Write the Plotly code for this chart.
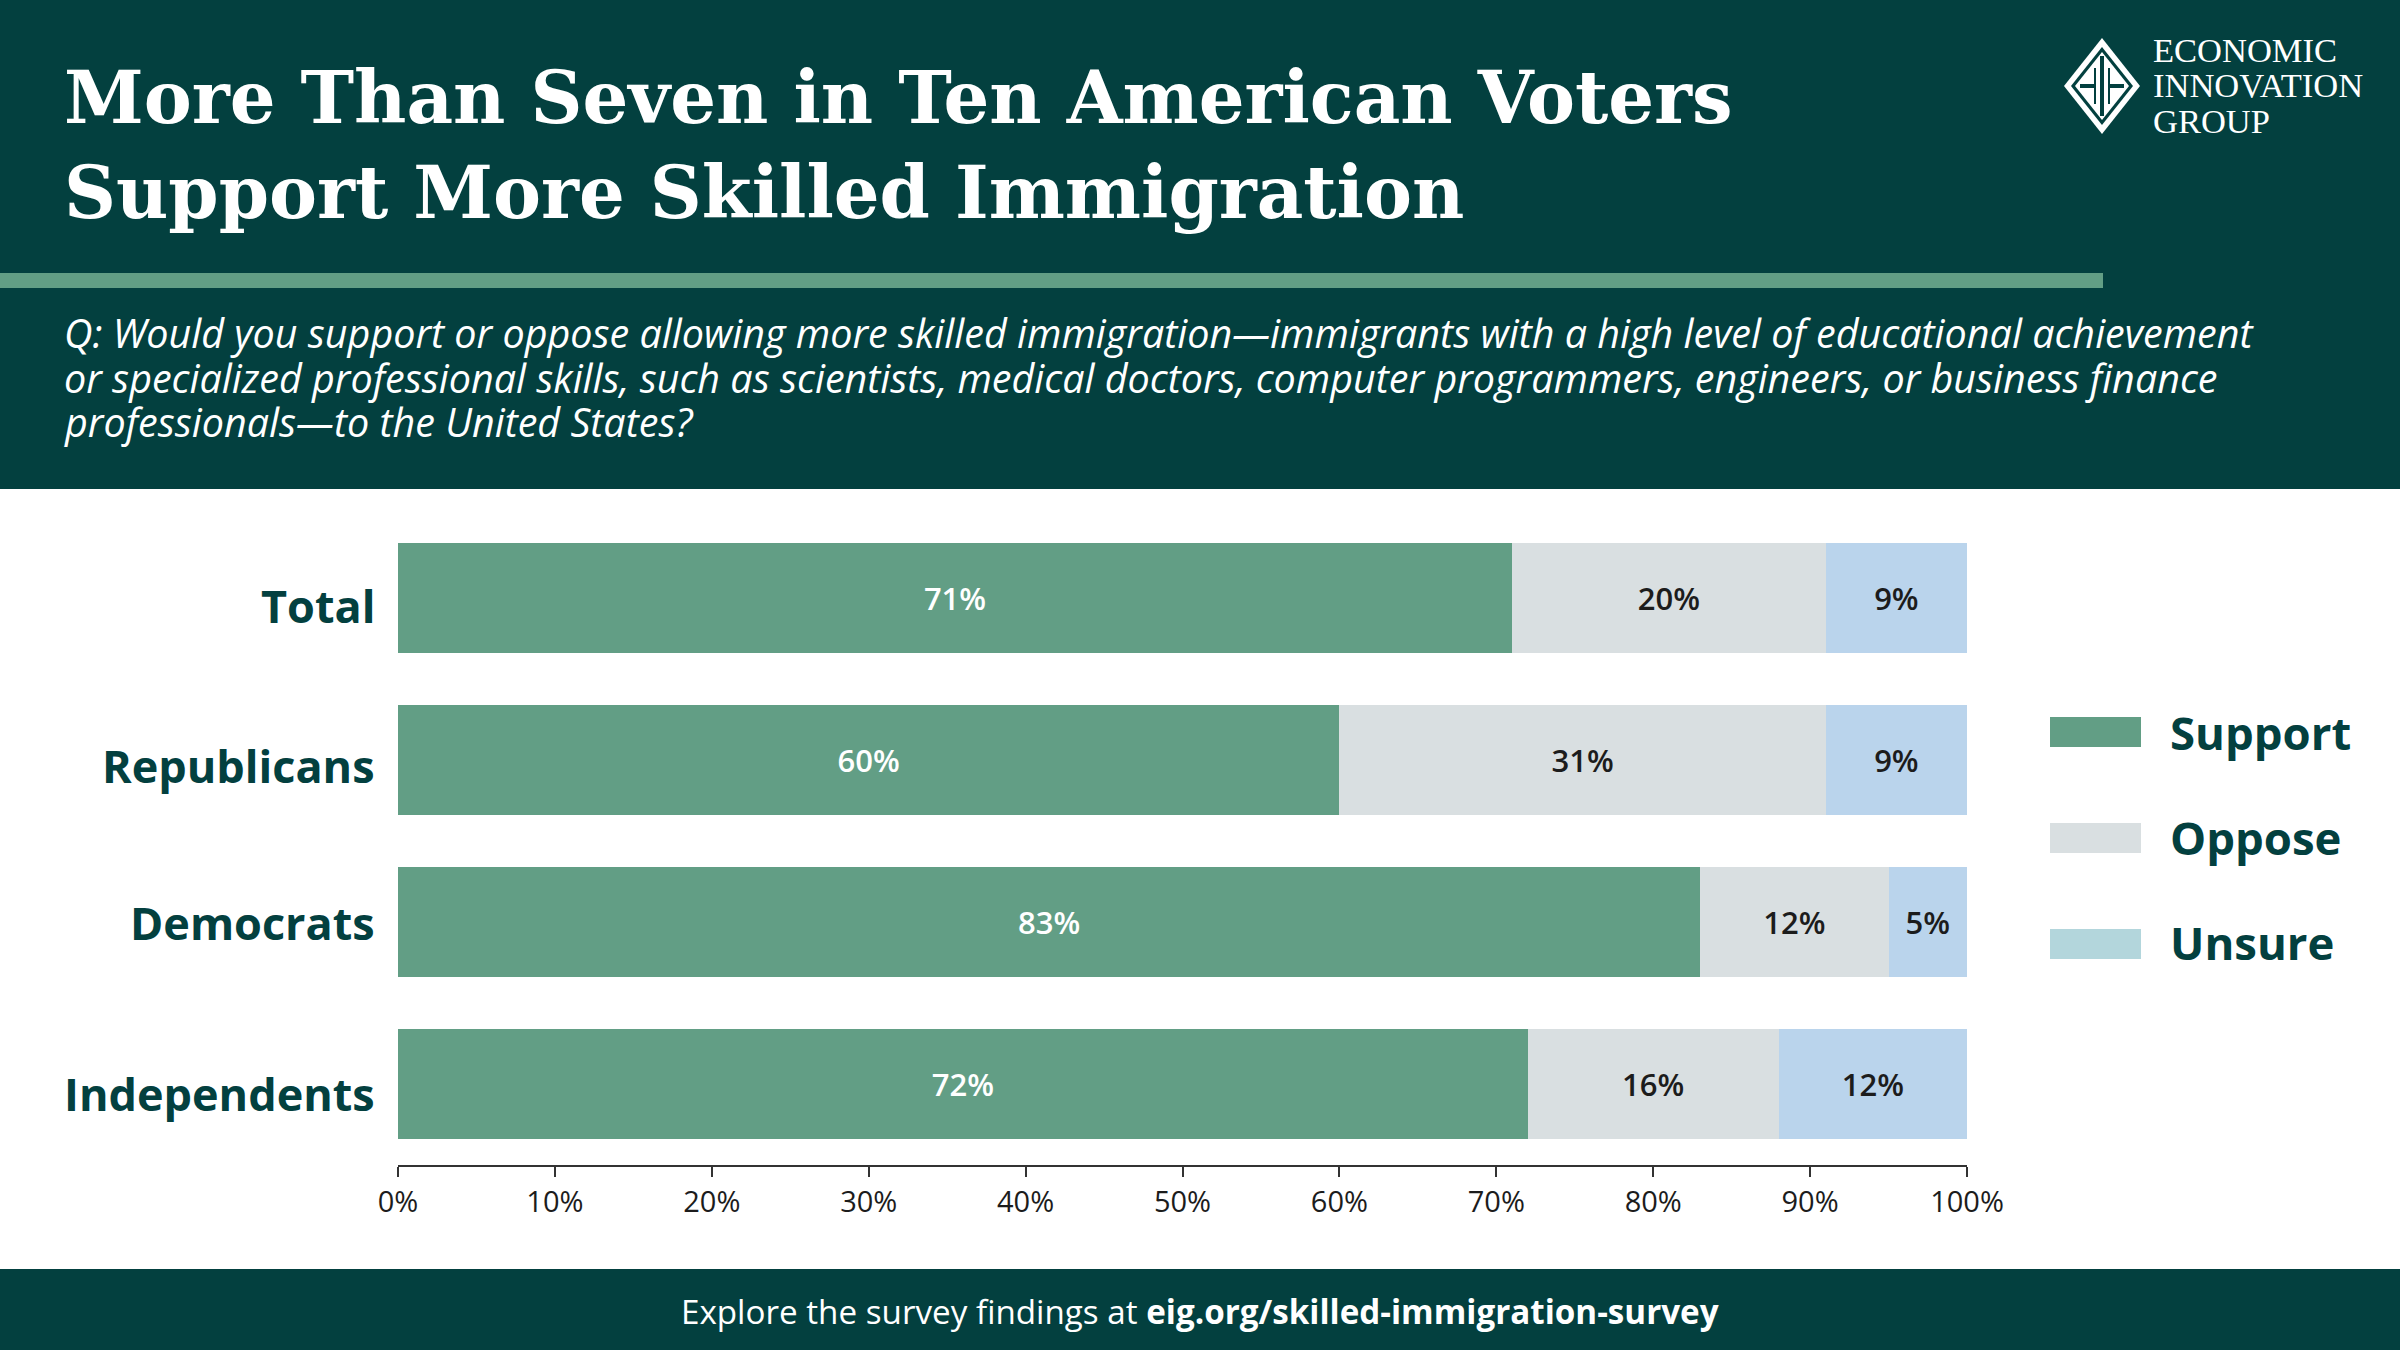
import plotly.graph_objects as go

categories = ["Total", "Republicans", "Democrats", "Independents"]
support = [71, 60, 83, 72]
oppose = [20, 31, 12, 16]
unsure = [9, 9, 5, 12]
tick_values = [0, 10, 20, 30, 40, 50, 60, 70, 80, 90, 100]
tick_labels = ["0%", "10%", "20%", "30%", "40%", "50%", "60%", "70%", "80%", "90%", "100%"]

title_lines = ["More Than Seven in Ten American Voters", "Support More Skilled Immigration"]
question_lines = [
    "Q: Would you support or oppose allowing more skilled immigration\u2014immigrants with a high level of educational achievement",
    "or specialized professional skills, such as scientists, medical doctors, computer programmers, engineers, or business finance",
    "professionals\u2014to the United States?",
]
logo_lines = ["ECONOMIC", "INNOVATION", "GROUP"]

W, H = 2400, 1350
L, R, T, B = 398, 1967, 517, 1165
DARK = "#03403F"
GREEN = "#629E85"
GREY = "#D9DFE1"
BLUE = "#BAD4EC"
LEGEND_BLUE = "#B3D6DC"
SANS = "Open Sans"
SERIF = "DejaVu Serif"


def px(x):
    return (x - L) / (R - L)


def py(y):
    return (B - y) / (B - T)


def rect(x0, y0, x1, y1, color, layer="below"):
    return dict(type="rect", xref="paper", yref="paper", x0=px(x0), x1=px(x1), y0=py(y1), y1=py(y0),
                fillcolor=color, line_width=0, layer=layer)


def poly(points, color):
    d = "M " + " L ".join(f"{px(x):.5f},{py(y):.5f}" for x, y in points) + " Z"
    return dict(type="path", xref="paper", yref="paper", path=d, fillcolor=color, line_width=0, layer="above")


def text(x, y, s, size, color=DARK, family=SANS, anchor="left", **font):
    return dict(xref="paper", yref="paper", x=px(x), y=py(y), text=s, showarrow=False, xanchor=anchor,
                yanchor="middle", font=dict(size=size, color=color, family=family, **font))


fig = go.Figure()
for name, vals, color, tcolor in [("Support", support, GREEN, "white"),
                                  ("Oppose", oppose, GREY, "#1c1c1c"),
                                  ("Unsure", unsure, BLUE, "#1c1c1c")]:
    fig.add_trace(go.Bar(y=categories, x=vals, name=name, orientation="h", marker=dict(color=color, line_width=0),
                         text=[f"{v}%" for v in vals], textposition="inside", insidetextanchor="middle", textangle=0,
                         textfont=dict(size=31, color=tcolor, family=SANS, weight=600), showlegend=False))

shapes = [rect(0, 0, W, 489, DARK), rect(0, 273, 2103, 288, GREEN), rect(0, 1269, W, H, DARK)]
# legend swatches
for y, c in [(732, GREEN), (838, GREY), (944, LEGEND_BLUE)]:
    shapes.append(rect(2050, y - 15, 2141, y + 15, c))
# logo
cx, cy = 2102, 86


def diamond(a, b):
    return [(cx, cy - b), (cx + a, cy), (cx, cy + b), (cx - a, cy)]


shapes += [poly(diamond(38, 48), "white"), poly(diamond(31, 39), DARK), poly(diamond(27, 34), "white")]
shapes += [rect(cx - 2, cy - 30, cx + 2, cy + 30, DARK, "above"),
           rect(cx - 22, cy - 2, cx - 8, cy + 2, DARK, "above"),
           rect(cx + 8, cy - 2, cx + 22, cy + 2, DARK, "above"),
           rect(cx - 8, cy - 18, cx - 6, cy + 18, DARK, "above"),
           rect(cx + 6, cy - 18, cx + 8, cy + 18, DARK, "above")]

ann = []
for s, y in zip(title_lines, [98, 192]):
    ann.append(text(62, y, s, 72, color="white", family=SERIF, weight="bold"))
for s, y in zip(question_lines, [333, 378, 422]):
    ann.append(text(62, y, s, 39.5, color="white", style="italic"))
for s, y in zip(logo_lines, [50, 85, 121]):
    ann.append(text(2151, y, s, 34.5, color="white", family="Liberation Serif"))
for s, y in zip(["Support", "Oppose", "Unsure"], [732, 837, 942]):
    ann.append(text(2168, y, s, 45.5, weight="bold"))
ann.append(text(1200, 1311, "Explore the survey findings at <b>eig.org/skilled-immigration-survey</b>", 33.2,
                color="white", anchor="center"))
for c, shift in zip(categories, [-7, -5, 0, -9]):
    ann.append(dict(xref="x", yref="y", x=0, y=c, text=c, showarrow=False, xanchor="right", yanchor="middle",
                    xshift=-21, yshift=shift, font=dict(size=45, color=DARK, family=SANS, weight="bold")))

fig.update_layout(
    width=W, height=H, barmode="stack", bargap=0.315, plot_bgcolor="rgba(0,0,0,0)", paper_bgcolor="white",
    margin=dict(l=L, r=W - R, t=T, b=H - B, autoexpand=False),
    shapes=shapes, annotations=ann, showlegend=False,
    xaxis=dict(range=[0, 100], tickvals=tick_values, ticktext=tick_labels, ticks="outside", ticklen=10, tickwidth=2,
               tickcolor="#333333", showline=True, linecolor="#333333", linewidth=2, showgrid=False, zeroline=False,
               tickfont=dict(size=29, color="#1c1c1c", family=SANS)),
    yaxis=dict(categoryorder="array", categoryarray=categories, autorange="reversed", showticklabels=False,
               ticks="", showline=False, showgrid=False, zeroline=False),
)
fig.write_html("out.html", config=dict(displayModeBar=False), post_script="document.body.style.margin='0';")
